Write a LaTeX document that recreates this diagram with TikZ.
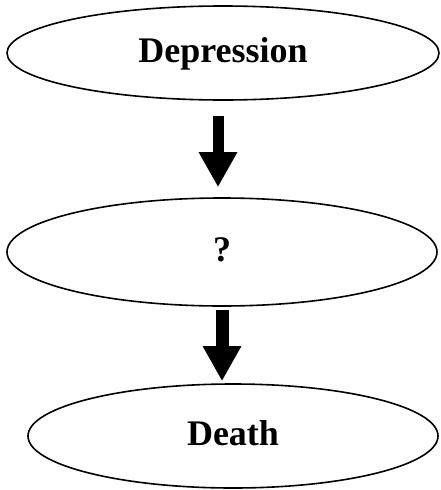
\documentclass[tikz,border=0pt]{standalone}
\usepackage{fontspec}
\setmainfont{Liberation Serif}
\usetikzlibrary{shapes.geometric,arrows.meta}

\tikzset{
  stage/.style={ellipse,draw=black,line width=1.6pt,inner sep=0pt,
                font=\fontsize{36}{40}\selectfont\bfseries,
                text height=26pt,text depth=8pt},
  bigarrow/.style={line width=11pt,-{Triangle[width=36pt,length=35pt]}}
}

\begin{document}
\begin{tikzpicture}[x=1pt,y=-1pt]
\useasboundingbox (0,0) rectangle (441,490);

\node[stage,minimum width=432pt,minimum height=94pt] (dep) at (223,53) {Depression};
\node[stage,minimum width=430pt,minimum height=108pt] (unk) at (222,252) {?};
\node[stage,minimum width=410pt,minimum height=104pt] (death) at (233,436) {Death};

\draw[bigarrow] ([xshift=-5pt,yshift=-15pt]dep.south) -- ([xshift=-4pt,yshift=10pt]unk.north);
\draw[bigarrow,line width=13pt] ([xshift=0pt,yshift=-3pt]unk.south) -- ([xshift=-11pt,yshift=2pt]death.north);

\end{tikzpicture}
\end{document}
